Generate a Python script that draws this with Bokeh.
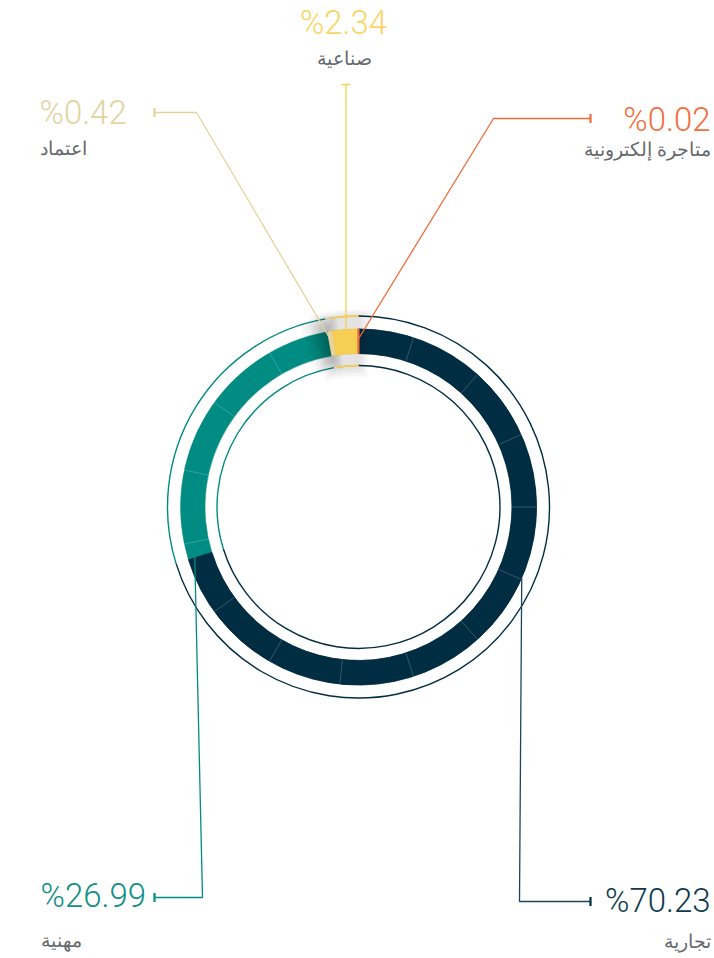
import math
from bokeh.plotting import figure
from bokeh.models import Range1d
from bokeh.embed import file_html
from bokeh.resources import INLINE
from bokeh.core.properties import value

# ---------------- data ----------------
names = ["تجارية", "مهنية", "اعتماد", "صناعية", "متاجرة إلكترونية"]
shares = [70.23, 26.99, 0.42, 2.34, 0.02]
pct_labels = ["%70.23", "%26.99", "%0.42", "%2.34", "%0.02"]
colors = ["#012d43", "#008c82", "#e5d39e", "#f6cf52", "#f26c3a"]
label_colors = ["#0e3a50", "#138f86", "#e3d3a2", "#fbd565", "#f2703d"]

# ---------------- layout (page pixels) ----------------
W, H = 714, 958
PAGE_H = 958
CX, CY = 358.0, 506.5
R_IN, R_OUT = 153.5, 178.0
RING_IN, RING_OUT = 141.5, 191.0
N_DIV, DIV_OFFSET = 15, 18.0

anchor_ang = [113.5, 257.6, None, None, None]   # None -> segment middle
anchor_r = [178, 168, 168, 168, 168]
knees = [(519, 901), (202, 897), (196, 112), None, (493, 118)]
ends = [(590, 901), (154, 897), (154, 112), (None, 84), (590, 118)]
pct_pos = [(710, 900, "right"), (40, 895, "left"), (39, 112, "left"), (343, 22, "center"), (710, 119, "right")]
name_pos = [(710, 940, "right"), (40, 939, "left"), (39, 147, "left"), (344, 57, "center"), (710, 148, "right")]


def Y(yp):
    return PAGE_H - yp


def rad(deg_cw_from_top):
    return math.radians(90.0 - deg_cw_from_top)


def pt(deg, r):
    a = math.radians(deg)
    return CX + r * math.sin(a), CY - r * math.cos(a)


total = sum(shares)
starts, stops = [], []
acc = 0.0
for s in shares:
    starts.append(acc / total * 360.0)
    acc += s
    stops.append(acc / total * 360.0)

p = figure(width=W, height=H, x_range=Range1d(0, W), y_range=Range1d(0, H),
           output_backend="svg", toolbar_location=None, min_border=0,
           background_fill_color="white", border_fill_color="white")
p.axis.visible = False
p.grid.visible = False
p.outline_line_color = None

cy = Y(CY)


def band(i, **kw):
    p.annular_wedge(x=CX, y=cy, inner_radius=R_IN, outer_radius=R_OUT,
                    start_angle=rad(starts[i]), end_angle=rad(stops[i]), direction="clock",
                    fill_color=colors[i], line_color=colors[i], line_width=kw.get("lw", 0.5))


def rings(i):
    for rr in (RING_IN, RING_OUT):
        p.arc(x=CX, y=cy, radius=rr, start_angle=rad(starts[i]), end_angle=rad(stops[i]),
              direction="clock", line_color=colors[i], line_width=1.4)


for i in range(len(shares)):
    rings(i)
    band(i)

# soft shadow at the start of the first segment (over the second one)
b = stops[1]
for k in range(1, 7):
    p.annular_wedge(x=CX, y=cy, inner_radius=R_IN - 2 - k * 2.2, outer_radius=R_OUT + 2 + k * 2.2,
                    start_angle=rad(b - k * 1.3), end_angle=rad(b + k * 0.6), direction="clock",
                    fill_color="#000000", fill_alpha=0.03, line_color=None)
band(0)

# thin dividers
for k in range(N_DIV):
    d = DIV_OFFSET + k * 360.0 / N_DIV
    (x0, y0), (x1, y1) = pt(d, R_IN), pt(d, R_OUT)
    p.line([x0, x1], [Y(y0), Y(y1)], line_color="white", line_alpha=0.25, line_width=0.8)

# soft shadow around the small highlighted segments
s0, s1 = starts[2], stops[4]
for k in range(1, 8):
    p.annular_wedge(x=CX, y=cy, inner_radius=RING_IN - 2 - k * 1.4, outer_radius=RING_OUT + k * 1.0,
                    start_angle=rad(s0 - k * 0.7), end_angle=rad(s1 + k * 0.6), direction="clock",
                    fill_color="#000000", fill_alpha=0.016, line_color=None)
for i in (2, 3, 4):
    rings(i)
    band(i, lw=2 if i == 4 else 0.5)

# leader lines
for i in range(len(shares)):
    ang = anchor_ang[i] if anchor_ang[i] is not None else (starts[i] + stops[i]) / 2
    ax, ay = pt(ang, anchor_r[i])
    ex, ey = ends[i]
    if ex is None:
        ex = ax
    xs, ys = [ax], [ay]
    if knees[i] is not None:
        xs.append(knees[i][0]); ys.append(knees[i][1])
    xs.append(ex); ys.append(ey)
    p.line(xs, [Y(v) for v in ys], line_color=colors[i] if i != 0 else "#1d4559", line_width=1.3)
    if knees[i] is None:   # vertical leader -> horizontal cap
        p.line([ex - 4.5, ex + 4.5], [Y(ey), Y(ey)], line_color=colors[i], line_width=1.6)
    else:
        p.line([ex, ex], [Y(ey - 4.5), Y(ey + 4.5)], line_color=colors[i], line_width=2.2)

# labels
for i in range(len(shares)):
    x, yb, al = pct_pos[i]
    p.text(x=[x], y=[Y(yb)], text=[pct_labels[i]], text_align=al, text_baseline="alphabetic",
           text_font=value("Roboto Light"), text_font_size="33px", text_color=label_colors[i])
    x, yb, al = name_pos[i]
    p.text(x=[x], y=[Y(yb)], text=[names[i]], text_align=al, text_baseline="alphabetic",
           text_font=value("Noto Sans"), text_font_size="19px", text_color="#65696c")

open("out.html", "w").write(file_html(p, INLINE))
